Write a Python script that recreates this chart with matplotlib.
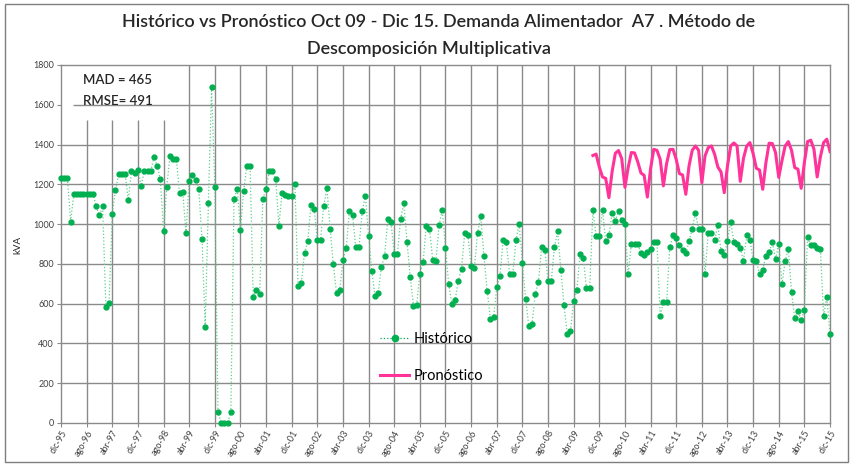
import matplotlib
matplotlib.use('Agg')
import matplotlib.pyplot as plt
from matplotlib.patches import Rectangle
from matplotlib.lines import Line2D
import numpy as np

plt.rcParams['font.family'] = ['Lato', 'DejaVu Sans']

# ---------------- data ----------------
historico = [
    1230, 1230, 1230, 1013, 1151, 1151, 1151, 1151, 1151, 1151,   # 0-9
    1151, 1089, 1044, 1089, 583, 603, 1050, 1172, 1251, 1251,     # 10-19
    1251, 1122, 1265, 1256, 1273, 1193, 1265, 1265, 1265, 1337,   # 20-29
    1293, 1228, 963, 1186, 1343, 1328, 1328, 1156, 1161, 955,     # 30-39
    1219, 1245, 1223, 1178, 926, 484, 1106, 1687, 1186, 54,       # 40-49
    0, 0, 0, 54, 1127, 1178, 972, 1164, 1293, 1293,               # 50-59
    633, 670, 648, 1127, 1178, 1265, 1265, 1228, 993, 1156,       # 60-69
    1144, 1142, 1142, 1201, 687, 704, 854, 913, 1094, 1077,       # 70-79
    920, 920, 1092, 1181, 977, 797, 653, 670, 821, 878,           # 80-89
    1064, 1044, 884, 884, 1064, 1142, 941, 765, 640, 655,         # 90-99
    784, 841, 1027, 1010, 849, 849, 1027, 1106, 908, 732,         # 100-109
    590, 595, 749, 807, 993, 977, 821, 814, 995, 1070,            # 110-119
    878, 698, 600, 616, 715, 776, 955, 943, 787, 779,             # 120-129
    955, 1039, 841, 665, 525, 533, 683, 740, 921, 908,            # 130-139
    749, 749, 921, 1000, 804, 625, 486, 497, 648, 707,            # 140-149
    884, 871, 712, 712, 884, 963, 771, 591, 449, 461,             # 150-159
    613, 670, 851, 832, 677, 677, 1070, 941, 941, 1069,           # 160-169
    913, 943, 1055, 1018, 1064, 1022, 1000, 749, 900, 902,        # 170-179
    902, 854, 846, 859, 874, 908, 908, 539, 606, 606,             # 180-189
    883, 945, 928, 896, 871, 854, 913, 977, 1055, 977,            # 190-199
    977, 749, 955, 957, 920, 995, 863, 846, 913, 1013,            # 200-209
    908, 899, 878, 816, 943, 921, 821, 814, 749, 770,             # 210-219
    841, 859, 908, 824, 901, 697, 814, 876, 657, 526,             # 220-229
    565, 518, 570, 935, 893, 893, 879, 876, 539, 633,             # 230-239
    447,                                                          # 240
]

pronostico_inicio = 166   # oct-09
pronostico = [
    1345, 1352, 1287, 1237, 1230, 1133, 1264, 1356, 1370, 1329,   # 166-175
    1185, 1284, 1360, 1358, 1313, 1257, 1245, 1136, 1279, 1376,   # 176-185
    1371, 1326, 1192, 1304, 1375, 1376, 1326, 1254, 1247, 1150,   # 186-195
    1292, 1371, 1393, 1371, 1208, 1343, 1385, 1393, 1351, 1287,   # 196-205
    1262, 1158, 1292, 1393, 1408, 1393, 1215, 1331, 1392, 1410,   # 206-215
    1355, 1281, 1272, 1175, 1309, 1407, 1405, 1360, 1235, 1318,   # 216-225
    1393, 1415, 1371, 1284, 1276, 1180, 1309, 1415, 1422, 1376,   # 226-235
    1237, 1338, 1410, 1427, 1365,                                 # 236-240
]

tick_labels = ['dic-95', 'ago-96', 'abr-97', 'dic-97', 'ago-98', 'abr-99', 'dic-99',
               'ago-00', 'abr-01', 'dic-01', 'ago-02', 'abr-03', 'dic-03', 'ago-04',
               'abr-05', 'dic-05', 'ago-06', 'abr-07', 'dic-07', 'ago-08', 'abr-09',
               'dic-09', 'ago-10', 'abr-11', 'dic-11', 'ago-12', 'abr-13', 'dic-13',
               'ago-14', 'abr-15', 'dic-15']
tick_step = 8
mad_value = 465
rmse_value = 491

# ---------------- figure ----------------
W, H = 854, 470
fig = plt.figure(figsize=(W / 100, H / 100), dpi=100)


def fx(px):
    return px / W


def fy(py):
    return 1 - py / H


ax = fig.add_axes([fx(61), fy(423), fx(830) - fx(61), fy(65) - fy(423)])
n = len(historico)
x_h = np.arange(n)
x_p = np.arange(pronostico_inicio, pronostico_inicio + len(pronostico))

ax.set_xlim(0, n - 1)
ax.set_ylim(0, 1800)

grid_color = '#8a8a8a'
# horizontal gridlines
for v in range(200, 1800, 200):
    xmin = 3.7 if v == 1600 else 0
    ax.hlines(v, xmin, n - 1, color=grid_color, lw=1.0, zorder=0.5)
# vertical gridlines
for k, xv in enumerate(range(tick_step, n - 1, tick_step), start=1):
    ymax = 1525 if k <= 4 else 1800
    ax.vlines(xv, 0, ymax, color=grid_color, lw=1.0, zorder=0.5)

green = '#00B050'
ax.plot(x_h, historico, color='#5fd08a', ls=':', lw=0.9, zorder=2)
ax.plot(x_h, historico, ls='none', marker='o', ms=3.5, mfc=green, mec=green, zorder=3,
        clip_on=False)
pink = '#FF3399'
ax.plot(x_p, pronostico, color=pink, lw=2.2, zorder=4, solid_joinstyle='round')

for s in ax.spines.values():
    s.set_color(grid_color)
    s.set_linewidth(1.0)

ax.set_xticks(range(0, n, tick_step))
ax.set_xticklabels(tick_labels)
ax.set_yticks(range(0, 1801, 200))
ax.tick_params(axis='x', length=3, color=grid_color, labelsize=6.5, pad=1,
               labelcolor='#404040')
ax.tick_params(axis='y', length=3, color=grid_color, labelsize=6.5, pad=2,
               labelcolor='#404040')
for lab in ax.get_xticklabels():
    lab.set_rotation(60)
    lab.set_ha('right')
    lab.set_rotation_mode('anchor')

# legend
handles = [Line2D([], [], color=green, ls=':', lw=0.9, marker='o', ms=4.5,
                  mfc=green, mec=green),
           Line2D([], [], color=pink, lw=2.2)]
ax.legend(handles, ['Histórico', 'Pronóstico'], loc='upper left',
          bbox_to_anchor=(fx(380), fy(332)), bbox_transform=fig.transFigure,
          frameon=False, fontsize=10.5, handlelength=2.0, handletextpad=0.3,
          labelspacing=1.6, borderpad=0, borderaxespad=0)

# texts
fig.text(fx(439), fy(22), 'Histórico vs Pronóstico Oct 09 - Dic 15. Demanda Alimentador  A7 . Método de',
         ha='center', va='center', fontsize=13, fontweight='semibold', color='#262626')
fig.text(fx(429), fy(49), 'Descomposición Multiplicativa',
         ha='center', va='center', fontsize=13, fontweight='semibold', color='#262626')
fig.text(fx(18), fy(245), 'kVA', rotation=90, ha='center', va='center', fontsize=7,
         color='#262626')
fig.text(fx(83), fy(80), f'MAD = {mad_value}', ha='left', va='center', fontsize=9.5,
         fontweight='semibold', color='#262626')
fig.text(fx(83), fy(101), f'RMSE= {rmse_value}', ha='left', va='center', fontsize=9.5,
         fontweight='semibold', color='#262626')

# outer chart border
fig.add_artist(Rectangle((fx(5), fy(462)), fx(848) - fx(5), fy(4) - fy(462),
                         transform=fig.transFigure, fill=False, edgecolor='#7f7f7f', lw=1.0))

fig.savefig('out.png', dpi=100)
